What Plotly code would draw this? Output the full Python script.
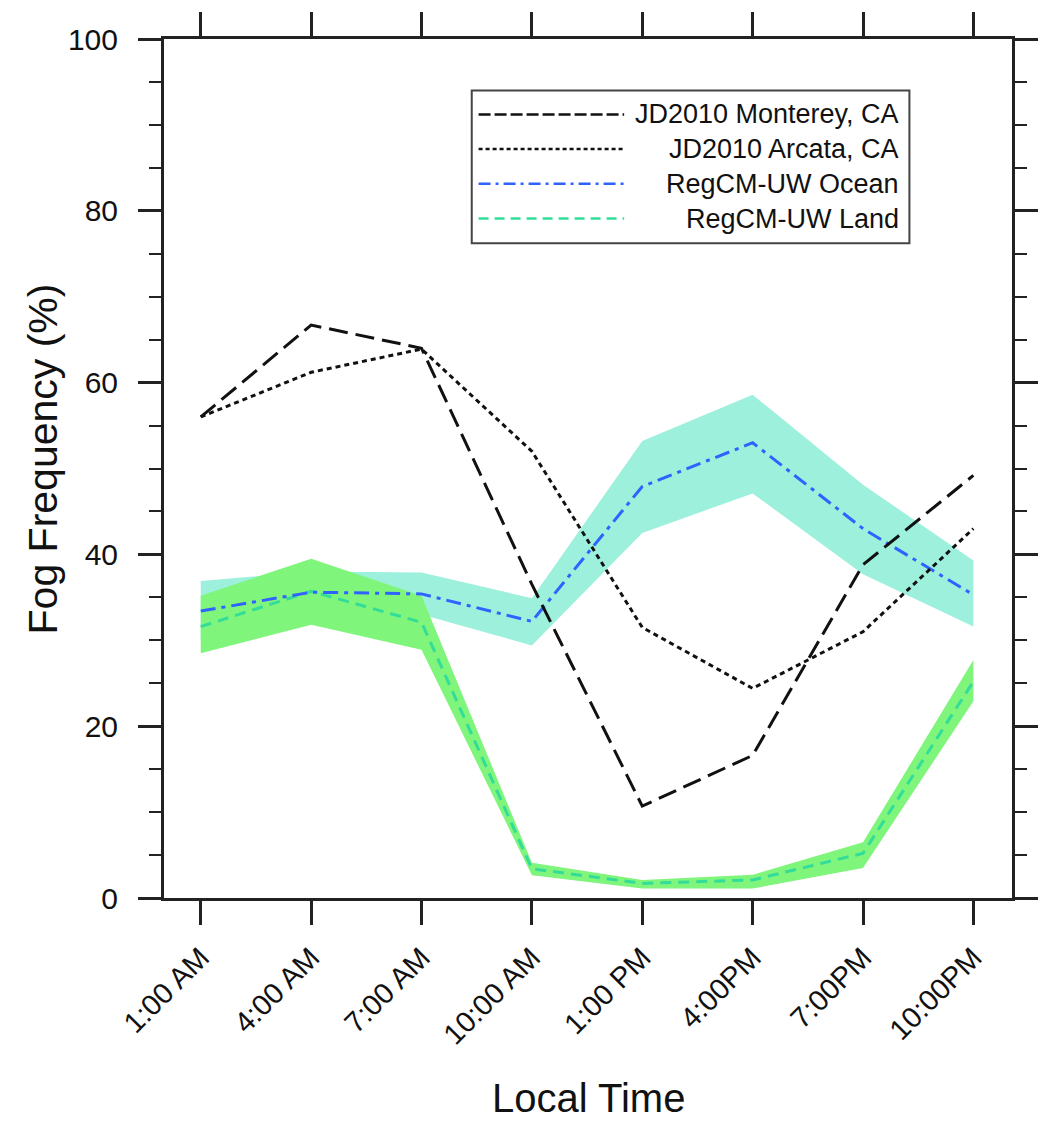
import plotly.graph_objects as go

# ---------------- data ----------------
times = ["1:00 AM", "4:00 AM", "7:00 AM", "10:00 AM", "1:00 PM", "4:00PM", "7:00PM", "10:00PM"]

monterey = [56.0, 66.7, 64.0, 36.5, 10.7, 16.6, 38.8, 49.2]
arcata = [56.0, 61.2, 63.9, 52.0, 31.5, 24.4, 31.0, 43.0]

ocean_mean = [33.4, 35.6, 35.4, 32.2, 47.9, 53.0, 43.0, 35.3]
ocean_upper = [36.9, 38.0, 37.9, 34.9, 53.2, 58.6, 48.1, 39.3]
ocean_lower = [30.0, 33.3, 33.0, 29.4, 42.5, 47.1, 37.7, 31.6]

land_mean = [31.6, 35.7, 32.1, 3.4, 1.7, 2.1, 5.2, 25.2]
land_upper = [35.2, 39.5, 35.2, 4.1, 2.1, 2.7, 6.5, 27.7]
land_lower = [28.5, 31.8, 28.9, 2.65, 1.1, 1.1, 3.5, 22.9]

legend_names = ["JD2010 Monterey, CA", "JD2010 Arcata, CA", "RegCM-UW Ocean", "RegCM-UW Land"]
y_ticks = [0, 20, 40, 60, 80, 100]

# ---------------- styles ----------------
FONT = "Liberation Sans, Arial, Helvetica, sans-serif"
BLACK = "#111111"
BLUE = "#2f62ff"
LAND = "#33dd99"
TEAL_FILL = "#9cf0dc"
GREEN_FILL = "#80f57c"

styles = [
    dict(color=BLACK, width=3, dash="19px,8px"),
    dict(color=BLACK, width=3, dash="5px,4px"),
    dict(color=BLUE, width=3, dash="15px,6px,4px,6px"),
    dict(color=LAND, width=3, dash="11px,7px"),
]
legend_dashes = ["12px,4px", "4px,3px", "12px,5px,3px,5px", "10px,6px"]

fig = go.Figure()

# bands
fig.add_trace(go.Scatter(x=times, y=ocean_lower, mode="lines", line=dict(width=0, color=TEAL_FILL),
                         showlegend=False, hoverinfo="skip"))
fig.add_trace(go.Scatter(x=times, y=ocean_upper, mode="lines", line=dict(width=0, color=TEAL_FILL),
                         fill="tonexty", fillcolor=TEAL_FILL, showlegend=False, hoverinfo="skip"))
fig.add_trace(go.Scatter(x=times, y=land_lower, mode="lines", line=dict(width=0, color=GREEN_FILL),
                         showlegend=False, hoverinfo="skip"))
fig.add_trace(go.Scatter(x=times, y=land_upper, mode="lines", line=dict(width=0, color=GREEN_FILL),
                         fill="tonexty", fillcolor=GREEN_FILL, showlegend=False, hoverinfo="skip"))

# lines
series = [monterey, arcata, ocean_mean, land_mean]
order = [3, 2, 1, 0]
for i in order:
    fig.add_trace(go.Scatter(x=times, y=series[i], mode="lines", name=legend_names[i],
                             line=styles[i], showlegend=False))

# plot area in pixels
L, R, T, B = 164, 1032, 32, 898
W, H = 1050, 1125


def px(xpix):
    return (xpix - L) / (R - L)


def py(ypix):
    return (B - ypix) / (B - T)


shapes = []
annotations = []
# legend box
shapes.append(dict(type="rect", xref="paper", yref="paper", x0=px(479), x1=px(927), y0=py(238), y1=py(84),
                   line=dict(color="#444444", width=2), fillcolor="white", layer="above"))
rows = [108, 143, 178, 213]
for i, ry in enumerate(rows):
    shapes.append(dict(type="line", xref="paper", yref="paper", x0=px(486), x1=px(635), y0=py(ry), y1=py(ry),
                       line=dict(color=styles[i]["color"], width=2.5, dash=legend_dashes[i]), layer="above"))
    annotations.append(dict(xref="paper", yref="paper", x=px(918), y=py(ry), text=legend_names[i],
                            showarrow=False, xanchor="right", yanchor="middle",
                            font=dict(family=FONT, size=27, color=BLACK)))

# axis titles
annotations.append(dict(xref="paper", yref="paper", x=px(40), y=py(455), text="Fog Frequency (%)",
                        textangle=-90, showarrow=False, xanchor="center", yanchor="middle",
                        font=dict(family=FONT, size=41, color=BLACK)))
annotations.append(dict(xref="paper", yref="paper", x=px(598), y=py(1100), text="Local Time",
                        showarrow=False, xanchor="center", yanchor="middle",
                        font=dict(family=FONT, size=40, color=BLACK)))

fig.update_layout(
    width=W, height=H,
    margin=dict(l=L, r=W - R, t=T, b=H - B),
    paper_bgcolor="white", plot_bgcolor="white",
    font=dict(family=FONT, color=BLACK),
    shapes=shapes, annotations=annotations,
    showlegend=False,
)

fig.update_xaxes(
    type="category", categoryorder="array", categoryarray=times,
    range=[-0.333, 7.35],
    showgrid=False, zeroline=False,
    showline=True, linecolor="#222222", linewidth=3, mirror="allticks",
    ticks="outside", ticklen=24, tickwidth=2.5, tickcolor="#222222",
    tickangle=-45, tickfont=dict(family=FONT, size=29, color=BLACK),
    ticklabelstandoff=4,
)
fig.update_yaxes(
    range=[0, 100], tickvals=y_ticks,
    showgrid=False, zeroline=False,
    showline=True, linecolor="#222222", linewidth=3, mirror="allticks",
    ticks="outside", ticklen=23, tickwidth=2.5, tickcolor="#222222",
    tickfont=dict(family=FONT, size=30, color=BLACK),
    ticklabelstandoff=14,
    minor=dict(dtick=5, ticks="outside", ticklen=12, tickwidth=2, tickcolor="#222222"),
)

fig.write_html("out.html", post_script="document.body.style.margin='0';document.body.style.overflow='hidden';")
